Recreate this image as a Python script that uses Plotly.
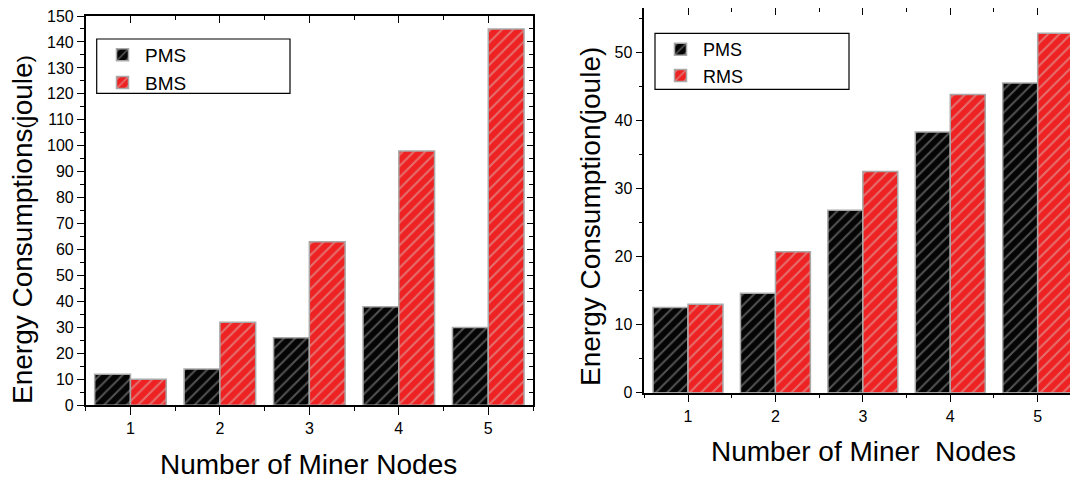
import plotly.graph_objects as go

W, H = 1078, 479
OFF = 8  # page body margin: figure is drawn 8 px right/down of the window corner

# ---- data ----
nodes = [1, 2, 3, 4, 5]
left_pms = [12, 14, 26, 38, 30]
left_bms = [10, 32, 63, 98, 145]
right_pms = [12.5, 14.6, 26.8, 38.3, 45.5]
right_rms = [13.0, 20.7, 32.5, 43.8, 52.8]
x_title_left = "Number of Miner Nodes"
x_title_right = "Number of Miner  Nodes"
y_title_left = "Energy Consumptions<span style='font-size:21px'>(</span>joule<span style='font-size:21px'>)</span>"
y_title_right = "Energy Consumption(joule)"

FONT = "Arial, 'Liberation Sans', sans-serif"
BLACK = "#050505"
RED = "#ee2222"


def px(x):
    # screen pixel -> paper fraction
    return (x - OFF) / W


def py(y):
    return 1 - (y - OFF) / H


def bar(name, xs, ys, color, fg, xa, ya, legend):
    return go.Bar(
        name=name, x=xs, y=ys, xaxis=xa, yaxis=ya, legend=legend,
        marker=dict(
            color=color,
            line=dict(color="#a9a9a9", width=1.5),
            pattern=dict(shape="/", fgcolor=fg, bgcolor=color, size=8,
                         solidity=0.25, fillmode="overlay"),
        ),
    )


fig = go.Figure()
fig.add_trace(bar("PMS", nodes, left_pms, BLACK, "#a0a0a0", "x", "y", "legend"))
fig.add_trace(bar("BMS", nodes, left_bms, RED, "#d8c0c0", "x", "y", "legend"))
fig.add_trace(bar("PMS", nodes, right_pms, BLACK, "#a0a0a0", "x2", "y2", "legend2"))
fig.add_trace(bar("RMS", nodes, right_rms, RED, "#d8c0c0", "x2", "y2", "legend2"))
# empty helper traces so the overlaid top / right frame axes are drawn
for xa, ya in [("x3", "y3"), ("x4", "y4")]:
    fig.add_trace(go.Scatter(x=[], y=[], xaxis=xa, yaxis=ya, showlegend=False,
                             hoverinfo="skip"))

tickfont = dict(family=FONT, size=16, color="black")
half = [0.5, 1.5, 2.5, 3.5, 4.5, 5.5]

# plot rectangles in screen pixels
L = dict(x0=85.7, x1=533.0, y0=16.0, y1=405.3)
R = dict(x0=644.3, x1=1081.4, y0=8.0, y1=392.7)

common_x = dict(showline=True, linecolor="black", linewidth=1.5, showgrid=False,
                zeroline=False, tickvals=nodes, tickwidth=1.3, tickcolor="black",
                tickfont=tickfont, fixedrange=True, ticklabeloverflow="allow")
common_y = dict(showline=True, linecolor="black", linewidth=1.5, showgrid=False,
                zeroline=False, tickwidth=1.3, tickcolor="black", tickfont=tickfont,
                fixedrange=True, ticklabeloverflow="allow")


def mn(kind, ticks, ticklen):
    d = dict(ticks=ticks, ticklen=ticklen, tickcolor="black", tickwidth=1.3)
    if kind == "x":
        d["tickvals"] = half
    else:
        d["dtick"] = 5
    return d


Ldom_x = [px(L["x0"]), px(L["x1"])]
Ldom_y = [py(L["y1"]), py(L["y0"])]
Rdom_x = [px(R["x0"]), px(R["x1"])]
Rdom_y = [py(R["y1"]), min(1.0, py(R["y0"]))]
R_YMAX = 56.5

fig.update_layout(
    width=W, height=H, autosize=False,
    margin=dict(l=0, r=0, t=0, b=0, pad=0, autoexpand=False),
    paper_bgcolor="white", plot_bgcolor="white",
    barmode="group", bargap=0.2, bargroupgap=0,
    font=dict(family=FONT, color="black"),
    # left chart
    xaxis=dict(common_x, domain=Ldom_x, anchor="y", range=[0.5, 5.5],
               ticks="outside", ticklen=8, minor=mn("x", "outside", 4)),
    yaxis=dict(common_y, domain=Ldom_y, anchor="x", range=[0, 150], dtick=10,
               ticks="outside", ticklen=7, minor=mn("y", "outside", 4)),
    xaxis3=dict(common_x, overlaying="x", anchor="y3", side="top", range=[0.5, 5.5],
                ticks="inside", ticklen=7, showticklabels=False,
                minor=mn("x", "inside", 4)),
    yaxis3=dict(common_y, overlaying="y", anchor="x3", side="right", range=[0, 150],
                dtick=10, ticks="inside", ticklen=6, showticklabels=False,
                minor=mn("y", "inside", 4)),
    # right chart
    xaxis2=dict(common_x, domain=Rdom_x, anchor="y2", range=[0.5, 5.5],
                ticks="outside", ticklen=8, minor=mn("x", "outside", 4)),
    yaxis2=dict(common_y, domain=Rdom_y, anchor="x2", range=[0, R_YMAX], dtick=10,
                ticks="outside", ticklen=7, minor=mn("y", "outside", 4)),
    xaxis4=dict(common_x, overlaying="x2", anchor="y4", side="top", range=[0.5, 5.5],
                ticks="inside", ticklen=7, showticklabels=False,
                minor=mn("x", "inside", 4)),
    yaxis4=dict(common_y, overlaying="y2", anchor="x4", side="right", range=[0, R_YMAX],
                dtick=10, ticks="inside", ticklen=7, showticklabels=False,
                minor=mn("y", "inside", 4)),
    legend=dict(x=px(100), y=py(36), xanchor="left", yanchor="top",
                bgcolor="rgba(0,0,0,0)", borderwidth=0, itemwidth=35,
                font=dict(family=FONT, size=19, color="black"),
                tracegroupgap=0),
    legend2=dict(x=px(658), y=py(31), xanchor="left", yanchor="top",
                 bgcolor="rgba(0,0,0,0)", borderwidth=0, itemwidth=35,
                 font=dict(family=FONT, size=18, color="black"),
                 tracegroupgap=0),
    shapes=[
        dict(type="rect", xref="paper", yref="paper",
             x0=px(96.7), x1=px(290), y0=py(93.3), y1=py(39),
             line=dict(color="black", width=1.2), fillcolor="rgba(0,0,0,0)"),
        dict(type="rect", xref="paper", yref="paper",
             x0=px(655), x1=px(849), y0=py(89.3), y1=py(33.3),
             line=dict(color="black", width=1.2), fillcolor="rgba(0,0,0,0)"),
    ],
    annotations=[
        dict(text=x_title_left, xref="paper", yref="paper", x=px(308), y=py(464),
             showarrow=False, font=dict(family=FONT, size=28, color="black"),
             xanchor="center", yanchor="middle"),
        dict(text=x_title_right, xref="paper", yref="paper", x=px(863), y=py(451),
             showarrow=False, font=dict(family=FONT, size=28, color="black"),
             xanchor="center", yanchor="middle"),
        dict(text=y_title_left, xref="paper", yref="paper", x=px(22), y=py(230),
             showarrow=False, textangle=-90, font=dict(family=FONT, size=28, color="black"),
             xanchor="center", yanchor="middle"),
        dict(text=y_title_right, xref="paper", yref="paper", x=px(590), y=py(217),
             showarrow=False, textangle=-90, font=dict(family=FONT, size=28, color="black"),
             xanchor="center", yanchor="middle"),
    ],
)

fig.write_html("out.html")
